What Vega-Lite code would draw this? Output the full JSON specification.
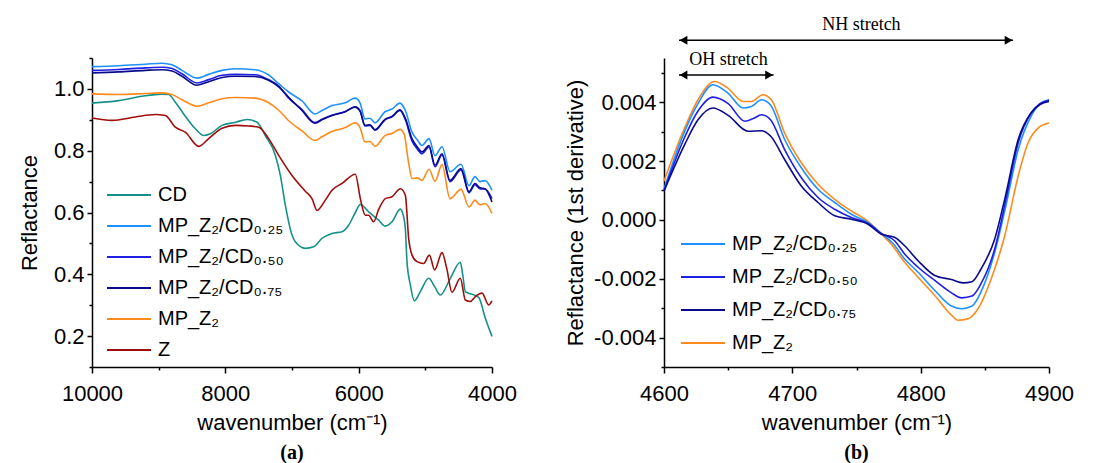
{
  "$schema": "https://vega.github.io/schema/vega-lite/v6.json",
  "padding": {"left": 18, "top": 16, "right": 5, "bottom": 5},
  "config": {
    "font": "Liberation Sans",
    "view": {"stroke": null},
    "axis": {"labelFont": "Liberation Sans", "labelFontSize": 22, "titleFont": "Liberation Sans", "titleFontSize": 22, "titleFontWeight": "normal", "labelColor": "black", "titleColor": "black", "domainColor": "black", "tickColor": "black", "domainWidth": 1.5, "tickWidth": 1.5, "grid": false, "labelOverlap": false, "labelFlush": false},
    "legend": {"labelFont": "Liberation Sans", "labelFontSize": 20, "labelColor": "black", "symbolType": "M-1,0H3", "symbolSize": 484, "symbolStrokeWidth": 2, "labelOffset": 28, "padding": 0, "orient": "none"}
  },
  "datasets": {
    "a": [
      {"s": "CD", "w": 10000, "r": 0.954}, {"s": "CD", "w": 9600, "r": 0.962}, {"s": "CD", "w": 9250, "r": 0.976}, {"s": "CD", "w": 8950, "r": 0.983}, {"s": "CD", "w": 8850, "r": 0.982}, {"s": "CD", "w": 8750, "r": 0.957}, {"s": "CD", "w": 8625, "r": 0.919}, {"s": "CD", "w": 8450, "r": 0.871}, {"s": "CD", "w": 8325, "r": 0.849}, {"s": "CD", "w": 8225, "r": 0.855}, {"s": "CD", "w": 8050, "r": 0.882}, {"s": "CD", "w": 7850, "r": 0.892}, {"s": "CD", "w": 7675, "r": 0.901}, {"s": "CD", "w": 7525, "r": 0.892}, {"s": "CD", "w": 7400, "r": 0.849}, {"s": "CD", "w": 7250, "r": 0.785}, {"s": "CD", "w": 7175, "r": 0.72}, {"s": "CD", "w": 7100, "r": 0.624}, {"s": "CD", "w": 7000, "r": 0.527}, {"s": "CD", "w": 6950, "r": 0.505}, {"s": "CD", "w": 6800, "r": 0.484}, {"s": "CD", "w": 6675, "r": 0.489}, {"s": "CD", "w": 6550, "r": 0.516}, {"s": "CD", "w": 6400, "r": 0.532}, {"s": "CD", "w": 6250, "r": 0.538}, {"s": "CD", "w": 6150, "r": 0.559}, {"s": "CD", "w": 6050, "r": 0.6}, {"s": "CD", "w": 5975, "r": 0.626}, {"s": "CD", "w": 5850, "r": 0.602}, {"s": "CD", "w": 5700, "r": 0.575}, {"s": "CD", "w": 5600, "r": 0.556}, {"s": "CD", "w": 5500, "r": 0.57}, {"s": "CD", "w": 5375, "r": 0.611}, {"s": "CD", "w": 5330, "r": 0.59}, {"s": "CD", "w": 5300, "r": 0.548}, {"s": "CD", "w": 5275, "r": 0.441}, {"s": "CD", "w": 5225, "r": 0.366}, {"s": "CD", "w": 5165, "r": 0.314}, {"s": "CD", "w": 5075, "r": 0.344}, {"s": "CD", "w": 4950, "r": 0.387}, {"s": "CD", "w": 4860, "r": 0.36}, {"s": "CD", "w": 4775, "r": 0.333}, {"s": "CD", "w": 4625, "r": 0.387}, {"s": "CD", "w": 4475, "r": 0.439}, {"s": "CD", "w": 4440, "r": 0.4}, {"s": "CD", "w": 4400, "r": 0.344}, {"s": "CD", "w": 4350, "r": 0.339}, {"s": "CD", "w": 4200, "r": 0.325}, {"s": "CD", "w": 4100, "r": 0.258}, {"s": "CD", "w": 4000, "r": 0.199},
      {"s": "Z", "w": 10000, "r": 0.906}, {"s": "Z", "w": 9700, "r": 0.898}, {"s": "Z", "w": 9350, "r": 0.909}, {"s": "Z", "w": 9050, "r": 0.917}, {"s": "Z", "w": 8900, "r": 0.914}, {"s": "Z", "w": 8750, "r": 0.876}, {"s": "Z", "w": 8600, "r": 0.86}, {"s": "Z", "w": 8400, "r": 0.814}, {"s": "Z", "w": 8250, "r": 0.839}, {"s": "Z", "w": 8050, "r": 0.873}, {"s": "Z", "w": 7850, "r": 0.882}, {"s": "Z", "w": 7650, "r": 0.88}, {"s": "Z", "w": 7500, "r": 0.876}, {"s": "Z", "w": 7350, "r": 0.839}, {"s": "Z", "w": 7200, "r": 0.785}, {"s": "Z", "w": 7000, "r": 0.72}, {"s": "Z", "w": 6800, "r": 0.669}, {"s": "Z", "w": 6700, "r": 0.645}, {"s": "Z", "w": 6625, "r": 0.607}, {"s": "Z", "w": 6500, "r": 0.64}, {"s": "Z", "w": 6400, "r": 0.672}, {"s": "Z", "w": 6250, "r": 0.694}, {"s": "Z", "w": 6050, "r": 0.724}, {"s": "Z", "w": 5975, "r": 0.645}, {"s": "Z", "w": 5900, "r": 0.591}, {"s": "Z", "w": 5850, "r": 0.591}, {"s": "Z", "w": 5775, "r": 0.57}, {"s": "Z", "w": 5700, "r": 0.61}, {"s": "Z", "w": 5600, "r": 0.645}, {"s": "Z", "w": 5500, "r": 0.651}, {"s": "Z", "w": 5375, "r": 0.677}, {"s": "Z", "w": 5300, "r": 0.656}, {"s": "Z", "w": 5250, "r": 0.516}, {"s": "Z", "w": 5200, "r": 0.462}, {"s": "Z", "w": 5125, "r": 0.441}, {"s": "Z", "w": 5025, "r": 0.435}, {"s": "Z", "w": 4940, "r": 0.462}, {"s": "Z", "w": 4860, "r": 0.414}, {"s": "Z", "w": 4750, "r": 0.47}, {"s": "Z", "w": 4680, "r": 0.42}, {"s": "Z", "w": 4600, "r": 0.342}, {"s": "Z", "w": 4475, "r": 0.387}, {"s": "Z", "w": 4400, "r": 0.317}, {"s": "Z", "w": 4325, "r": 0.312}, {"s": "Z", "w": 4250, "r": 0.328}, {"s": "Z", "w": 4150, "r": 0.339}, {"s": "Z", "w": 4050, "r": 0.301}, {"s": "Z", "w": 4000, "r": 0.314},
      {"s": "MP_Z2", "w": 10000, "r": 0.984}, {"s": "MP_Z2", "w": 9600, "r": 0.982}, {"s": "MP_Z2", "w": 9200, "r": 0.985}, {"s": "MP_Z2", "w": 8950, "r": 0.987}, {"s": "MP_Z2", "w": 8800, "r": 0.982}, {"s": "MP_Z2", "w": 8650, "r": 0.965}, {"s": "MP_Z2", "w": 8425, "r": 0.944}, {"s": "MP_Z2", "w": 8250, "r": 0.955}, {"s": "MP_Z2", "w": 8050, "r": 0.968}, {"s": "MP_Z2", "w": 7855, "r": 0.972}, {"s": "MP_Z2", "w": 7555, "r": 0.97}, {"s": "MP_Z2", "w": 7350, "r": 0.955}, {"s": "MP_Z2", "w": 7195, "r": 0.93}, {"s": "MP_Z2", "w": 7050, "r": 0.897}, {"s": "MP_Z2", "w": 6850, "r": 0.864}, {"s": "MP_Z2", "w": 6655, "r": 0.833}, {"s": "MP_Z2", "w": 6550, "r": 0.845}, {"s": "MP_Z2", "w": 6400, "r": 0.862}, {"s": "MP_Z2", "w": 6200, "r": 0.875}, {"s": "MP_Z2", "w": 6055, "r": 0.89}, {"s": "MP_Z2", "w": 5980, "r": 0.875}, {"s": "MP_Z2", "w": 5905, "r": 0.828}, {"s": "MP_Z2", "w": 5830, "r": 0.83}, {"s": "MP_Z2", "w": 5755, "r": 0.814}, {"s": "MP_Z2", "w": 5605, "r": 0.849}, {"s": "MP_Z2", "w": 5500, "r": 0.856}, {"s": "MP_Z2", "w": 5380, "r": 0.869}, {"s": "MP_Z2", "w": 5320, "r": 0.855}, {"s": "MP_Z2", "w": 5250, "r": 0.76}, {"s": "MP_Z2", "w": 5200, "r": 0.71}, {"s": "MP_Z2", "w": 5120, "r": 0.712}, {"s": "MP_Z2", "w": 5050, "r": 0.704}, {"s": "MP_Z2", "w": 4945, "r": 0.74}, {"s": "MP_Z2", "w": 4855, "r": 0.701}, {"s": "MP_Z2", "w": 4750, "r": 0.755}, {"s": "MP_Z2", "w": 4630, "r": 0.645}, {"s": "MP_Z2", "w": 4465, "r": 0.675}, {"s": "MP_Z2", "w": 4345, "r": 0.618}, {"s": "MP_Z2", "w": 4255, "r": 0.64}, {"s": "MP_Z2", "w": 4180, "r": 0.625}, {"s": "MP_Z2", "w": 4105, "r": 0.629}, {"s": "MP_Z2", "w": 4000, "r": 0.597},
      {"s": "MP_Z2/CD0.25", "w": 10000, "r": 1.072}, {"s": "MP_Z2/CD0.25", "w": 9600, "r": 1.075}, {"s": "MP_Z2/CD0.25", "w": 9200, "r": 1.08}, {"s": "MP_Z2/CD0.25", "w": 8950, "r": 1.083}, {"s": "MP_Z2/CD0.25", "w": 8800, "r": 1.078}, {"s": "MP_Z2/CD0.25", "w": 8650, "r": 1.06}, {"s": "MP_Z2/CD0.25", "w": 8425, "r": 1.035}, {"s": "MP_Z2/CD0.25", "w": 8250, "r": 1.047}, {"s": "MP_Z2/CD0.25", "w": 8050, "r": 1.06}, {"s": "MP_Z2/CD0.25", "w": 7855, "r": 1.065}, {"s": "MP_Z2/CD0.25", "w": 7555, "r": 1.062}, {"s": "MP_Z2/CD0.25", "w": 7350, "r": 1.045}, {"s": "MP_Z2/CD0.25", "w": 7195, "r": 1.016}, {"s": "MP_Z2/CD0.25", "w": 7050, "r": 0.99}, {"s": "MP_Z2/CD0.25", "w": 6850, "r": 0.961}, {"s": "MP_Z2/CD0.25", "w": 6655, "r": 0.919}, {"s": "MP_Z2/CD0.25", "w": 6550, "r": 0.93}, {"s": "MP_Z2/CD0.25", "w": 6400, "r": 0.946}, {"s": "MP_Z2/CD0.25", "w": 6200, "r": 0.955}, {"s": "MP_Z2/CD0.25", "w": 6055, "r": 0.97}, {"s": "MP_Z2/CD0.25", "w": 5980, "r": 0.955}, {"s": "MP_Z2/CD0.25", "w": 5905, "r": 0.903}, {"s": "MP_Z2/CD0.25", "w": 5830, "r": 0.905}, {"s": "MP_Z2/CD0.25", "w": 5755, "r": 0.89}, {"s": "MP_Z2/CD0.25", "w": 5605, "r": 0.926}, {"s": "MP_Z2/CD0.25", "w": 5500, "r": 0.935}, {"s": "MP_Z2/CD0.25", "w": 5380, "r": 0.954}, {"s": "MP_Z2/CD0.25", "w": 5300, "r": 0.93}, {"s": "MP_Z2/CD0.25", "w": 5200, "r": 0.86}, {"s": "MP_Z2/CD0.25", "w": 5120, "r": 0.835}, {"s": "MP_Z2/CD0.25", "w": 5050, "r": 0.817}, {"s": "MP_Z2/CD0.25", "w": 4945, "r": 0.839}, {"s": "MP_Z2/CD0.25", "w": 4855, "r": 0.784}, {"s": "MP_Z2/CD0.25", "w": 4750, "r": 0.813}, {"s": "MP_Z2/CD0.25", "w": 4630, "r": 0.732}, {"s": "MP_Z2/CD0.25", "w": 4465, "r": 0.756}, {"s": "MP_Z2/CD0.25", "w": 4345, "r": 0.687}, {"s": "MP_Z2/CD0.25", "w": 4255, "r": 0.716}, {"s": "MP_Z2/CD0.25", "w": 4180, "r": 0.7}, {"s": "MP_Z2/CD0.25", "w": 4105, "r": 0.703}, {"s": "MP_Z2/CD0.25", "w": 4000, "r": 0.672},
      {"s": "MP_Z2/CD0.50", "w": 10000, "r": 1.06}, {"s": "MP_Z2/CD0.50", "w": 9600, "r": 1.063}, {"s": "MP_Z2/CD0.50", "w": 9200, "r": 1.068}, {"s": "MP_Z2/CD0.50", "w": 8950, "r": 1.07}, {"s": "MP_Z2/CD0.50", "w": 8800, "r": 1.066}, {"s": "MP_Z2/CD0.50", "w": 8650, "r": 1.049}, {"s": "MP_Z2/CD0.50", "w": 8425, "r": 1.019}, {"s": "MP_Z2/CD0.50", "w": 8250, "r": 1.03}, {"s": "MP_Z2/CD0.50", "w": 8050, "r": 1.044}, {"s": "MP_Z2/CD0.50", "w": 7855, "r": 1.047}, {"s": "MP_Z2/CD0.50", "w": 7555, "r": 1.046}, {"s": "MP_Z2/CD0.50", "w": 7350, "r": 1.03}, {"s": "MP_Z2/CD0.50", "w": 7195, "r": 1.008}, {"s": "MP_Z2/CD0.50", "w": 7050, "r": 0.97}, {"s": "MP_Z2/CD0.50", "w": 6850, "r": 0.933}, {"s": "MP_Z2/CD0.50", "w": 6655, "r": 0.891}, {"s": "MP_Z2/CD0.50", "w": 6550, "r": 0.902}, {"s": "MP_Z2/CD0.50", "w": 6400, "r": 0.915}, {"s": "MP_Z2/CD0.50", "w": 6200, "r": 0.927}, {"s": "MP_Z2/CD0.50", "w": 6055, "r": 0.942}, {"s": "MP_Z2/CD0.50", "w": 5980, "r": 0.93}, {"s": "MP_Z2/CD0.50", "w": 5905, "r": 0.88}, {"s": "MP_Z2/CD0.50", "w": 5830, "r": 0.882}, {"s": "MP_Z2/CD0.50", "w": 5755, "r": 0.866}, {"s": "MP_Z2/CD0.50", "w": 5605, "r": 0.9}, {"s": "MP_Z2/CD0.50", "w": 5500, "r": 0.91}, {"s": "MP_Z2/CD0.50", "w": 5380, "r": 0.93}, {"s": "MP_Z2/CD0.50", "w": 5300, "r": 0.9}, {"s": "MP_Z2/CD0.50", "w": 5200, "r": 0.832}, {"s": "MP_Z2/CD0.50", "w": 5120, "r": 0.805}, {"s": "MP_Z2/CD0.50", "w": 5050, "r": 0.79}, {"s": "MP_Z2/CD0.50", "w": 4945, "r": 0.812}, {"s": "MP_Z2/CD0.50", "w": 4855, "r": 0.748}, {"s": "MP_Z2/CD0.50", "w": 4750, "r": 0.786}, {"s": "MP_Z2/CD0.50", "w": 4630, "r": 0.7}, {"s": "MP_Z2/CD0.50", "w": 4465, "r": 0.738}, {"s": "MP_Z2/CD0.50", "w": 4345, "r": 0.664}, {"s": "MP_Z2/CD0.50", "w": 4255, "r": 0.69}, {"s": "MP_Z2/CD0.50", "w": 4180, "r": 0.676}, {"s": "MP_Z2/CD0.50", "w": 4105, "r": 0.676}, {"s": "MP_Z2/CD0.50", "w": 4000, "r": 0.645},
      {"s": "MP_Z2/CD0.75", "w": 10000, "r": 1.052}, {"s": "MP_Z2/CD0.75", "w": 9600, "r": 1.055}, {"s": "MP_Z2/CD0.75", "w": 9200, "r": 1.06}, {"s": "MP_Z2/CD0.75", "w": 8950, "r": 1.062}, {"s": "MP_Z2/CD0.75", "w": 8800, "r": 1.058}, {"s": "MP_Z2/CD0.75", "w": 8650, "r": 1.041}, {"s": "MP_Z2/CD0.75", "w": 8425, "r": 1.012}, {"s": "MP_Z2/CD0.75", "w": 8250, "r": 1.023}, {"s": "MP_Z2/CD0.75", "w": 8050, "r": 1.037}, {"s": "MP_Z2/CD0.75", "w": 7855, "r": 1.041}, {"s": "MP_Z2/CD0.75", "w": 7555, "r": 1.04}, {"s": "MP_Z2/CD0.75", "w": 7350, "r": 1.028}, {"s": "MP_Z2/CD0.75", "w": 7195, "r": 1.006}, {"s": "MP_Z2/CD0.75", "w": 7050, "r": 0.973}, {"s": "MP_Z2/CD0.75", "w": 6850, "r": 0.93}, {"s": "MP_Z2/CD0.75", "w": 6655, "r": 0.889}, {"s": "MP_Z2/CD0.75", "w": 6550, "r": 0.9}, {"s": "MP_Z2/CD0.75", "w": 6400, "r": 0.914}, {"s": "MP_Z2/CD0.75", "w": 6200, "r": 0.926}, {"s": "MP_Z2/CD0.75", "w": 6055, "r": 0.941}, {"s": "MP_Z2/CD0.75", "w": 5980, "r": 0.928}, {"s": "MP_Z2/CD0.75", "w": 5905, "r": 0.882}, {"s": "MP_Z2/CD0.75", "w": 5830, "r": 0.884}, {"s": "MP_Z2/CD0.75", "w": 5755, "r": 0.868}, {"s": "MP_Z2/CD0.75", "w": 5605, "r": 0.901}, {"s": "MP_Z2/CD0.75", "w": 5500, "r": 0.911}, {"s": "MP_Z2/CD0.75", "w": 5380, "r": 0.932}, {"s": "MP_Z2/CD0.75", "w": 5300, "r": 0.905}, {"s": "MP_Z2/CD0.75", "w": 5200, "r": 0.839}, {"s": "MP_Z2/CD0.75", "w": 5120, "r": 0.812}, {"s": "MP_Z2/CD0.75", "w": 5050, "r": 0.796}, {"s": "MP_Z2/CD0.75", "w": 4945, "r": 0.817}, {"s": "MP_Z2/CD0.75", "w": 4855, "r": 0.753}, {"s": "MP_Z2/CD0.75", "w": 4750, "r": 0.79}, {"s": "MP_Z2/CD0.75", "w": 4630, "r": 0.704}, {"s": "MP_Z2/CD0.75", "w": 4465, "r": 0.742}, {"s": "MP_Z2/CD0.75", "w": 4345, "r": 0.667}, {"s": "MP_Z2/CD0.75", "w": 4255, "r": 0.694}, {"s": "MP_Z2/CD0.75", "w": 4180, "r": 0.68}, {"s": "MP_Z2/CD0.75", "w": 4105, "r": 0.677}, {"s": "MP_Z2/CD0.75", "w": 4000, "r": 0.634}
    ],
    "b": [
      {"s": "MP_Z2", "w": 4600, "d": 0.00132}, {"s": "MP_Z2", "w": 4616, "d": 0.00312}, {"s": "MP_Z2", "w": 4626.5, "d": 0.00408}, {"s": "MP_Z2", "w": 4639.4, "d": 0.0047}, {"s": "MP_Z2", "w": 4649.9, "d": 0.00447}, {"s": "MP_Z2", "w": 4661.6, "d": 0.00402}, {"s": "MP_Z2", "w": 4668, "d": 0.00402}, {"s": "MP_Z2", "w": 4677, "d": 0.00425}, {"s": "MP_Z2", "w": 4683.6, "d": 0.00408}, {"s": "MP_Z2", "w": 4694, "d": 0.00295}, {"s": "MP_Z2", "w": 4707, "d": 0.00194}, {"s": "MP_Z2", "w": 4720, "d": 0.00121}, {"s": "MP_Z2", "w": 4733, "d": 0.0007}, {"s": "MP_Z2", "w": 4746, "d": 0.0003}, {"s": "MP_Z2", "w": 4759, "d": -0.00005}, {"s": "MP_Z2", "w": 4769.3, "d": -0.00048}, {"s": "MP_Z2", "w": 4777, "d": -0.00082}, {"s": "MP_Z2", "w": 4787.5, "d": -0.00144}, {"s": "MP_Z2", "w": 4798, "d": -0.00195}, {"s": "MP_Z2", "w": 4811, "d": -0.00257}, {"s": "MP_Z2", "w": 4824, "d": -0.00324}, {"s": "MP_Z2", "w": 4829, "d": -0.00341}, {"s": "MP_Z2", "w": 4837, "d": -0.00336}, {"s": "MP_Z2", "w": 4844.7, "d": -0.00302}, {"s": "MP_Z2", "w": 4855, "d": -0.002}, {"s": "MP_Z2", "w": 4865.5, "d": -0.00054}, {"s": "MP_Z2", "w": 4876, "d": 0.00149}, {"s": "MP_Z2", "w": 4883.7, "d": 0.00262}, {"s": "MP_Z2", "w": 4891.5, "d": 0.00312}, {"s": "MP_Z2", "w": 4900, "d": 0.00329},
      {"s": "MP_Z2/CD0.25", "w": 4600, "d": 0.00105}, {"s": "MP_Z2/CD0.25", "w": 4616, "d": 0.003}, {"s": "MP_Z2/CD0.25", "w": 4626.5, "d": 0.00395}, {"s": "MP_Z2/CD0.25", "w": 4638, "d": 0.00459}, {"s": "MP_Z2/CD0.25", "w": 4650, "d": 0.0043}, {"s": "MP_Z2/CD0.25", "w": 4661.6, "d": 0.0038}, {"s": "MP_Z2/CD0.25", "w": 4668, "d": 0.00385}, {"s": "MP_Z2/CD0.25", "w": 4676, "d": 0.00408}, {"s": "MP_Z2/CD0.25", "w": 4683, "d": 0.0039}, {"s": "MP_Z2/CD0.25", "w": 4694, "d": 0.00273}, {"s": "MP_Z2/CD0.25", "w": 4707, "d": 0.00177}, {"s": "MP_Z2/CD0.25", "w": 4720, "d": 0.00104}, {"s": "MP_Z2/CD0.25", "w": 4733, "d": 0.00059}, {"s": "MP_Z2/CD0.25", "w": 4746, "d": 0.00019}, {"s": "MP_Z2/CD0.25", "w": 4759, "d": -0.00009}, {"s": "MP_Z2/CD0.25", "w": 4769, "d": -0.00045}, {"s": "MP_Z2/CD0.25", "w": 4778, "d": -0.00078}, {"s": "MP_Z2/CD0.25", "w": 4787.5, "d": -0.00133}, {"s": "MP_Z2/CD0.25", "w": 4798, "d": -0.00178}, {"s": "MP_Z2/CD0.25", "w": 4811, "d": -0.0024}, {"s": "MP_Z2/CD0.25", "w": 4824, "d": -0.00293}, {"s": "MP_Z2/CD0.25", "w": 4832, "d": -0.00302}, {"s": "MP_Z2/CD0.25", "w": 4840, "d": -0.00293}, {"s": "MP_Z2/CD0.25", "w": 4847, "d": -0.00245}, {"s": "MP_Z2/CD0.25", "w": 4857.7, "d": -0.0011}, {"s": "MP_Z2/CD0.25", "w": 4866, "d": 0.0004}, {"s": "MP_Z2/CD0.25", "w": 4876, "d": 0.00239}, {"s": "MP_Z2/CD0.25", "w": 4886, "d": 0.00352}, {"s": "MP_Z2/CD0.25", "w": 4893, "d": 0.00395}, {"s": "MP_Z2/CD0.25", "w": 4900, "d": 0.00408},
      {"s": "MP_Z2/CD0.50", "w": 4600, "d": 0.00098}, {"s": "MP_Z2/CD0.50", "w": 4616, "d": 0.0028}, {"s": "MP_Z2/CD0.50", "w": 4626.5, "d": 0.0037}, {"s": "MP_Z2/CD0.50", "w": 4638, "d": 0.00417}, {"s": "MP_Z2/CD0.50", "w": 4650, "d": 0.00395}, {"s": "MP_Z2/CD0.50", "w": 4663, "d": 0.00335}, {"s": "MP_Z2/CD0.50", "w": 4670, "d": 0.00345}, {"s": "MP_Z2/CD0.50", "w": 4676, "d": 0.00357}, {"s": "MP_Z2/CD0.50", "w": 4683, "d": 0.0034}, {"s": "MP_Z2/CD0.50", "w": 4694, "d": 0.00239}, {"s": "MP_Z2/CD0.50", "w": 4707, "d": 0.00143}, {"s": "MP_Z2/CD0.50", "w": 4720, "d": 0.00076}, {"s": "MP_Z2/CD0.50", "w": 4733, "d": 0.00036}, {"s": "MP_Z2/CD0.50", "w": 4746, "d": 0.00008}, {"s": "MP_Z2/CD0.50", "w": 4759, "d": -0.00012}, {"s": "MP_Z2/CD0.50", "w": 4769, "d": -0.00045}, {"s": "MP_Z2/CD0.50", "w": 4779.7, "d": -0.00071}, {"s": "MP_Z2/CD0.50", "w": 4787.5, "d": -0.00116}, {"s": "MP_Z2/CD0.50", "w": 4798, "d": -0.00161}, {"s": "MP_Z2/CD0.50", "w": 4811, "d": -0.00206}, {"s": "MP_Z2/CD0.50", "w": 4824, "d": -0.00248}, {"s": "MP_Z2/CD0.50", "w": 4832, "d": -0.00265}, {"s": "MP_Z2/CD0.50", "w": 4840, "d": -0.00259}, {"s": "MP_Z2/CD0.50", "w": 4847, "d": -0.00217}, {"s": "MP_Z2/CD0.50", "w": 4857.7, "d": -0.00099}, {"s": "MP_Z2/CD0.50", "w": 4866, "d": 0.0006}, {"s": "MP_Z2/CD0.50", "w": 4876, "d": 0.00262}, {"s": "MP_Z2/CD0.50", "w": 4886, "d": 0.00363}, {"s": "MP_Z2/CD0.50", "w": 4893, "d": 0.00395}, {"s": "MP_Z2/CD0.50", "w": 4900, "d": 0.00406},
      {"s": "MP_Z2/CD0.75", "w": 4600, "d": 0.00098}, {"s": "MP_Z2/CD0.75", "w": 4616, "d": 0.00255}, {"s": "MP_Z2/CD0.75", "w": 4626.5, "d": 0.0034}, {"s": "MP_Z2/CD0.75", "w": 4638, "d": 0.0038}, {"s": "MP_Z2/CD0.75", "w": 4650, "d": 0.00355}, {"s": "MP_Z2/CD0.75", "w": 4665.5, "d": 0.00301}, {"s": "MP_Z2/CD0.75", "w": 4676, "d": 0.00303}, {"s": "MP_Z2/CD0.75", "w": 4683, "d": 0.00285}, {"s": "MP_Z2/CD0.75", "w": 4694, "d": 0.00205}, {"s": "MP_Z2/CD0.75", "w": 4707, "d": 0.00115}, {"s": "MP_Z2/CD0.75", "w": 4720, "d": 0.00059}, {"s": "MP_Z2/CD0.75", "w": 4733, "d": 0.00014}, {"s": "MP_Z2/CD0.75", "w": 4746, "d": 0.00002}, {"s": "MP_Z2/CD0.75", "w": 4759, "d": -0.00015}, {"s": "MP_Z2/CD0.75", "w": 4769, "d": -0.00048}, {"s": "MP_Z2/CD0.75", "w": 4780, "d": -0.0006}, {"s": "MP_Z2/CD0.75", "w": 4787.5, "d": -0.00088}, {"s": "MP_Z2/CD0.75", "w": 4798, "d": -0.00139}, {"s": "MP_Z2/CD0.75", "w": 4811, "d": -0.00189}, {"s": "MP_Z2/CD0.75", "w": 4824, "d": -0.00203}, {"s": "MP_Z2/CD0.75", "w": 4833, "d": -0.00214}, {"s": "MP_Z2/CD0.75", "w": 4840, "d": -0.0021}, {"s": "MP_Z2/CD0.75", "w": 4847, "d": -0.00167}, {"s": "MP_Z2/CD0.75", "w": 4857.7, "d": -0.00065}, {"s": "MP_Z2/CD0.75", "w": 4866, "d": 0.0008}, {"s": "MP_Z2/CD0.75", "w": 4876, "d": 0.00273}, {"s": "MP_Z2/CD0.75", "w": 4886, "d": 0.00363}, {"s": "MP_Z2/CD0.75", "w": 4893, "d": 0.00392}, {"s": "MP_Z2/CD0.75", "w": 4900, "d": 0.00402}
    ],
    "arrows": [
      {"t": "NH stretch", "w": 4611.7, "w2": 4872, "d": 0.0061},
      {"t": "OH stretch", "w": 4611.7, "w2": 4685.4, "d": 0.00492}
    ],
    "heads": [
      {"end": "left", "w": 4615.2, "d": 0.0061},
      {"end": "right", "w": 4868.5, "d": 0.0061},
      {"end": "left", "w": 4615.2, "d": 0.00492},
      {"end": "right", "w": 4681.9, "d": 0.00492}
    ],
    "notes": [
      {"t": "NH stretch", "w": 4753.8, "d": 0.00662},
      {"t": "OH stretch", "w": 4650.3, "d": 0.00543}
    ]
  },
  "hconcat": [
    {
      "width": 400,
      "height": 309,
      "title": {"text": "(a)", "orient": "bottom", "font": "Liberation Serif", "fontSize": 20, "fontWeight": "bold", "color": "black", "offset": 10},
      "data": {"name": "a"},
      "mark": {"type": "line", "strokeWidth": 1.6, "interpolate": "monotone"},
      "encoding": {
        "x": {"field": "w", "type": "quantitative", "title": "wavenumber (cm⁻¹)",
          "scale": {"domain": [4000, 10000], "reverse": true, "nice": false, "zero": false},
          "axis": {"values": [10000, 9000, 8000, 7000, 6000, 5000, 4000], "format": "d", "tickSize": {"condition": {"test": "datum.value % 2000 == 0", "value": 6}, "value": 3}, "labelExpr": "datum.value % 2000 == 0 ? datum.label : ''", "labelPadding": 10, "titlePadding": 8}},
        "y": {"field": "r", "type": "quantitative", "title": "Reflactance",
          "scale": {"domain": [0.1, 1.1], "nice": false, "zero": false},
          "axis": {"values": [0.1, 0.2, 0.3, 0.4, 0.5, 0.6, 0.7, 0.8, 0.9, 1.0, 1.1], "tickSize": {"condition": {"test": "round(datum.value*10) % 2 == 0", "value": 5}, "value": 3}, "labelExpr": "round(datum.value*10) % 2 == 0 ? format(datum.value, '.1f') : ''", "labelPadding": 3, "titlePadding": 12}},
        "color": {"field": "s", "type": "nominal",
          "scale": {"domain": ["CD", "MP_Z2/CD0.25", "MP_Z2/CD0.50", "MP_Z2/CD0.75", "MP_Z2", "Z"], "range": ["#16918a", "#1e90ff", "#1f1fe6", "#0a0a8c", "#ff8a1c", "#a00d0d"]},
          "legend": {"title": null, "legendX": 14, "legendY": 125, "rowPadding": 9, "labelExpr": "{'CD':'CD','MP_Z2/CD0.25':'MP_Z₂/CD₀.₂₅','MP_Z2/CD0.50':'MP_Z₂/CD₀.₅₀','MP_Z2/CD0.75':'MP_Z₂/CD₀.₇₅','MP_Z2':'MP_Z₂','Z':'Z'}[datum.label]"}}
      }
    },
    {
      "width": 385,
      "height": 309,
      "title": {"text": "(b)", "orient": "bottom", "font": "Liberation Serif", "fontSize": 20, "fontWeight": "bold", "color": "black", "offset": 10},
      "encoding": {
        "x": {"field": "w", "type": "quantitative", "title": "wavenumber  (cm⁻¹)",
          "scale": {"domain": [4600, 4900], "nice": false, "zero": false},
          "axis": {"values": [4600, 4650, 4700, 4750, 4800, 4850, 4900], "format": "d", "tickSize": {"condition": {"test": "datum.value % 100 == 0", "value": 6}, "value": 3}, "labelExpr": "datum.value % 100 == 0 ? datum.label : ''", "labelPadding": 10, "titlePadding": 8}},
        "y": {"field": "d", "type": "quantitative", "title": "Reflactance (1st derivative)",
          "scale": {"domain": [-0.005, 0.0055], "nice": false, "zero": false},
          "axis": {"values": [-0.005, -0.004, -0.003, -0.002, -0.001, 0, 0.001, 0.002, 0.003, 0.004, 0.005], "tickSize": {"condition": {"test": "round(datum.value*1000) % 2 == 0", "value": 5}, "value": 3}, "labelExpr": "round(datum.value*1000) % 2 == 0 ? replace(datum.label, '−', '-') : ''", "format": ".3f", "labelPadding": 3, "titlePadding": 6}}
      },
      "layer": [
        {
          "data": {"name": "b"},
          "mark": {"type": "line", "strokeWidth": 1.6, "interpolate": "monotone"},
          "encoding": {
            "color": {"field": "s", "type": "nominal",
              "scale": {"domain": ["MP_Z2/CD0.25", "MP_Z2/CD0.50", "MP_Z2/CD0.75", "MP_Z2"], "range": ["#1e90ff", "#1f1fe6", "#0a0a8c", "#ff8a1c"]},
              "legend": {"title": null, "legendX": 16, "legendY": 174, "rowPadding": 11, "labelExpr": "{'MP_Z2/CD0.25':'MP_Z₂/CD₀.₂₅','MP_Z2/CD0.50':'MP_Z₂/CD₀.₅₀','MP_Z2/CD0.75':'MP_Z₂/CD₀.₇₅','MP_Z2':'MP_Z₂'}[datum.label]"}}
          }
        },
        {
          "data": {"name": "arrows"},
          "mark": {"type": "rule", "color": "black", "strokeWidth": 1.5},
          "encoding": {
            "x2": {"field": "w2"}
          }
        },
        {
          "data": {"name": "heads"},
          "transform": [{"filter": "datum.end == 'left'"}],
          "mark": {"type": "point", "shape": "triangle-left", "filled": true, "color": "black", "size": 81, "opacity": 1},
          "encoding": {}
        },
        {
          "data": {"name": "heads"},
          "transform": [{"filter": "datum.end == 'right'"}],
          "mark": {"type": "point", "shape": "triangle-right", "filled": true, "color": "black", "size": 81, "opacity": 1},
          "encoding": {}
        },
        {
          "data": {"name": "notes"},
          "mark": {"type": "text", "font": "Liberation Serif", "fontSize": 18, "color": "black", "baseline": "middle", "align": "center"},
          "encoding": {
            "text": {"field": "t"}
          }
        }
      ]
    }
  ],
  "spacing": 172,
  "bounds": "flush",
  "resolve": {"scale": {"color": "independent"}}
}
